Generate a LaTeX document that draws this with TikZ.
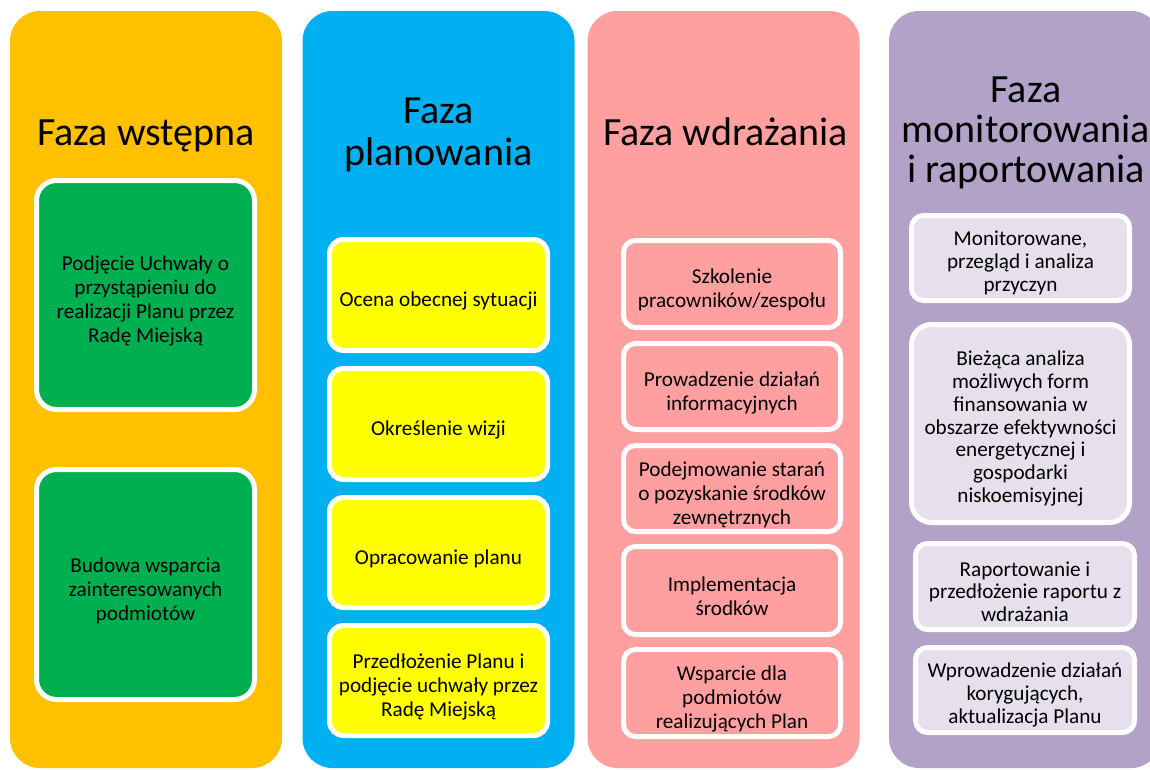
\documentclass[tikz,border=0pt]{standalone}
\usepackage{fontspec}
\setmainfont{Carlito}
\definecolor{cOrange}{HTML}{FFC000}
\definecolor{cCyan}{HTML}{00B0F0}
\definecolor{cPink}{HTML}{FF9F9F}
\definecolor{cPurple}{HTML}{B2A2C7}
\definecolor{cLav}{HTML}{E5E0EC}
\definecolor{cGreen}{HTML}{00B050}
\definecolor{cYellow}{HTML}{FFFF00}
% #1 style, #2 name, #3 center, #4 width, #5 height, #6 text
\newcommand\myBox[6]{%
  \node[bx, #1, minimum width=#4pt, minimum height=#5pt] (#2) at (#3) {};
  \node[txt] (#2-t) at ([yshift=-6pt]#2.center) {#6};}
\newcommand\myBoxS[6]{%
  \node[bx, #1, minimum width=#4pt, minimum height=#5pt] (#2) at (#3) {};
  \node[txts] (#2-t) at ([yshift=-5pt]#2.center) {#6};}
\begin{document}
\begin{tikzpicture}[x=1pt,y=-1pt,
  col/.style={rounded corners=30pt, inner sep=0pt, minimum width=272pt, minimum height=757pt},
  ttl/.style={font=\fontsize{40}{42}\selectfont, align=center, inner sep=0pt, anchor=base},
  bx/.style={draw=white, line width=5pt, inner sep=0pt},
  txt/.style={inner sep=0pt, align=center, font=\fontsize{21.2}{24}\selectfont},
  txts/.style={txt, font=\fontsize{21.2}{22.7}\selectfont},
]
\useasboundingbox (0,0) rectangle (1150,769);
\fill[white] (0,0) rectangle (1150,769);
% columns
\node[col, fill=cOrange] (col1) at (146,389.5) {};
\node[col, fill=cCyan]   (col2) at (438.5,389.5) {};
\node[col, fill=cPink]   (col3) at (723.5,389.5) {};
\node[col, fill=cPurple] (col4) at (1025,389.5) {};
% titles (base = last line)
\node[ttl] (t1) at (146,145) {Faza wstępna};
\node[ttl] (t2) at (438.5,165) {Faza\\planowania};
\node[ttl] (t3) at (725.5,145) {Faza wdrażania};
\node[ttl, font=\fontsize{40}{40}\selectfont] (t4) at (1026,182) {Faza\\monitorowania\\i raportowania};
% column 1
\myBox{fill=cGreen, rounded corners=20pt}{a1}{145.5,295}{218}{229}{Podjęcie Uchwały o\\przystąpieniu do\\realizacji Planu przez\\Radę Miejską}
\myBox{fill=cGreen, rounded corners=20pt}{a2}{145.5,584.5}{218}{230}{Budowa wsparcia\\zainteresowanych\\podmiotów}
% column 2
\myBox{fill=cYellow, rounded corners=14pt}{b1}{438.5,295}{218}{111}{Ocena obecnej sytuacji}
\myBox{fill=cYellow, rounded corners=14pt}{b2}{438.5,424}{218}{111}{Określenie wizji}
\myBox{fill=cYellow, rounded corners=14pt}{b3}{438.5,552.5}{218}{110}{Opracowanie planu}
\myBox{fill=cYellow, rounded corners=14pt}{b4}{438.5,680.5}{218}{110}{Przedłożenie Planu i\\podjęcie uchwały przez\\Radę Miejską}
% column 3
\myBox{fill=cPink, rounded corners=12pt}{c1}{732,284}{217}{87}{Szkolenie\\pracowników/zespołu}
\myBox{fill=cPink, rounded corners=12pt}{c2}{732,386.5}{217}{86}{Prowadzenie działań\\informacyjnych}
\myBox{fill=cPink, rounded corners=12pt}{c3}{732,488.5}{217}{86}{Podejmowanie starań\\o pozyskanie środków\\zewnętrznych}
\myBox{fill=cPink, rounded corners=12pt}{c4}{732,590.5}{217}{88}{Implementacja\\środków}
\myBox{fill=cPink, rounded corners=12pt}{c5}{732,693}{217}{87}{Wsparcie dla\\podmiotów\\realizujących Plan}
% column 4
\myBoxS{fill=cLav, rounded corners=12pt}{d1}{1020.5,258}{218}{85}{Monitorowane,\\przegląd i analiza\\przyczyn}
\myBoxS{fill=cLav, rounded corners=20pt}{d2}{1020.5,423.5}{218}{198}{Bieżąca analiza\\możliwych form\\finansowania w\\obszarze efektywności\\energetycznej i\\gospodarki\\niskoemisyjnej}
\myBoxS{fill=cLav, rounded corners=12pt}{d3}{1025,586.5}{219}{86}{Raportowanie i\\przedłożenie raportu z\\wdrażania}
\myBoxS{fill=cLav, rounded corners=12pt}{d4}{1025,690}{219}{85}{Wprowadzenie działań\\korygujących,\\aktualizacja Planu}
\end{tikzpicture}
\end{document}
